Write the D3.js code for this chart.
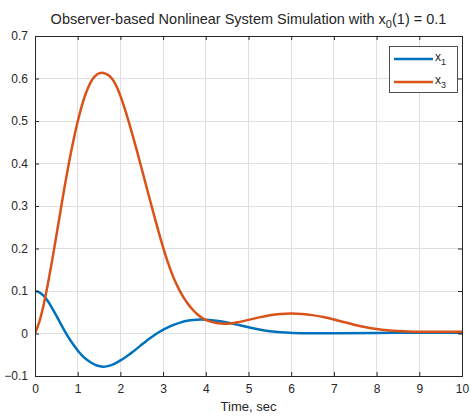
<!DOCTYPE html>
<html><head><meta charset="utf-8">
<script src="https://cdn.jsdelivr.net/npm/d3@7"></script>
<style>body{margin:0;background:#fff}svg{display:block}text{font-family:"Liberation Sans",Arial,sans-serif;fill:#262626}</style>
</head><body><svg id="c" width="470" height="417"></svg>
<script>
const tX1 = [0,0.1,0.2,0.3,0.4,0.5,0.6,0.7,0.8,0.9,1.0,1.1,1.2,1.3,1.4,1.5,1.6,1.7,1.8,1.9,2.0,2.1,2.2,2.3,2.4,2.5,2.6,2.7,2.8,2.9,3.0,3.2,3.4,3.6,3.8,4.0,4.25,4.5,4.75,5.0,5.25,5.5,5.75,6,6.5,7,8,9,10];
const x1 = [0.1,0.098,0.09,0.077,0.06,0.042,0.023,0.005,-0.012,-0.027,-0.04,-0.052,-0.061,-0.068,-0.0735,-0.077,-0.0785,-0.077,-0.074,-0.069,-0.0635,-0.057,-0.05,-0.0425,-0.0345,-0.026,-0.018,-0.0105,-0.0035,0.003,0.0088,0.019,0.026,0.031,0.033,0.0325,0.03,0.026,0.0205,0.0145,0.009,0.005,0.0025,0.0012,0.0005,0.0008,0.0015,0.002,0.002];
const tX3 = [0,0.1,0.2,0.3,0.4,0.5,0.6,0.7,0.8,0.9,1.0,1.1,1.2,1.3,1.4,1.5,1.6,1.7,1.8,1.9,2.0,2.1,2.2,2.3,2.4,2.5,2.6,2.7,2.8,2.9,3.0,3.1,3.2,3.3,3.4,3.5,3.6,3.7,3.8,3.9,4.0,4.25,4.5,4.75,5.0,5.25,5.5,5.75,6.0,6.25,6.5,6.75,7.0,7.25,7.5,7.75,8.0,8.25,8.5,8.75,9.0,9.5,10];
const x3 = [0,0.025,0.065,0.115,0.17,0.23,0.29,0.35,0.405,0.455,0.5,0.538,0.569,0.592,0.606,0.613,0.614,0.61,0.601,0.585,0.56,0.53,0.497,0.462,0.425,0.387,0.349,0.311,0.274,0.237,0.202,0.17,0.142,0.118,0.098,0.081,0.067,0.055,0.045,0.037,0.031,0.0235,0.022,0.026,0.032,0.038,0.0435,0.0465,0.0475,0.0465,0.0435,0.039,0.033,0.0265,0.02,0.0145,0.0105,0.0075,0.0058,0.0048,0.0043,0.004,0.004];
const xTicks = [0,1,2,3,4,5,6,7,8,9,10];
const yTicks = [-0.1,0,0.1,0.2,0.3,0.4,0.5,0.6,0.7];
const seriesNames = ["1","3"];
const colors = ["#0072BD","#D95319"];

const svg = d3.select("#c");
const L=35,R=462,T=36,B=376;
const x = d3.scaleLinear().domain([0,10]).range([L,R]);
const y = d3.scaleLinear().domain([-0.1,0.7]).range([B,T]);
const ax = "#262626";

// grid
svg.append("g").selectAll("line").data(xTicks).join("line")
  .attr("x1",d=>x(d)).attr("x2",d=>x(d)).attr("y1",T).attr("y2",B)
  .attr("stroke","#dfdfdf").attr("stroke-width",1).attr("shape-rendering","crispEdges");
svg.append("g").selectAll("line").data(yTicks).join("line")
  .attr("y1",d=>y(d)).attr("y2",d=>y(d)).attr("x1",L).attr("x2",R)
  .attr("stroke","#dfdfdf").attr("stroke-width",1).attr("shape-rendering","crispEdges");

// lines
const data = [tX1.map((t,i)=>[t,x1[i]]), tX3.map((t,i)=>[t,x3[i]])];
const line = d3.line().x(d=>x(d[0])).y(d=>y(d[1])).curve(d3.curveBasis);
svg.append("clipPath").attr("id","cp").append("rect").attr("x",L).attr("y",T).attr("width",R-L).attr("height",B-T);
svg.append("g").attr("clip-path","url(#cp)").selectAll("path").data(data).join("path")
  .attr("d",line).attr("fill","none").attr("stroke",(d,i)=>colors[i]).attr("stroke-width",2.5);

// axes
const axB = svg.append("g").attr("transform",`translate(0,${B})`).call(d3.axisBottom(x).tickValues(xTicks).tickSize(-4).tickPadding(8).tickFormat(d3.format("d")));
const axT = svg.append("g").attr("transform",`translate(0,${T})`).call(d3.axisTop(x).tickValues(xTicks).tickSize(-4).tickFormat(""));
const axL = svg.append("g").attr("transform",`translate(${L},0)`).call(d3.axisLeft(y).tickValues(yTicks).tickSize(-4).tickPadding(7).tickFormat(d=>d3.format("")(+d.toFixed(1))));
const axR = svg.append("g").attr("transform",`translate(${R},0)`).call(d3.axisRight(y).tickValues(yTicks).tickSize(-4).tickFormat(""));
[axB,axT,axL,axR].forEach(g=>{
  g.selectAll("path,line").attr("stroke",ax);
  g.selectAll("text").attr("font-size",12).attr("fill",ax).attr("font-family","Liberation Sans, Arial, sans-serif");
});

// title
const title = svg.append("text").attr("x",(L+R)/2).attr("y",24).attr("text-anchor","middle").attr("font-size",14.5);
title.append("tspan").text("Observer-based Nonlinear System Simulation with x");
title.append("tspan").attr("font-size",11).attr("dy",4).text("0");
title.append("tspan").attr("dy",-4).text("(1) = 0.1");

// x label
svg.append("text").attr("x",(L+R)/2).attr("y",411).attr("text-anchor","middle").attr("font-size",13).text("Time, sec");

// legend
const lg = svg.append("g");
lg.append("rect").attr("x",389.5).attr("y",46.5).attr("width",68).attr("height",46).attr("fill","#fff").attr("stroke",ax).attr("stroke-width",0.8);
seriesNames.forEach((n,i)=>{
  const yy = 59 + i*23;
  lg.append("line").attr("x1",394).attr("x2",433).attr("y1",yy).attr("y2",yy).attr("stroke",colors[i]).attr("stroke-width",2.5);
  const t = lg.append("text").attr("x",435).attr("y",yy+2).attr("font-size",12);
  t.append("tspan").text("x");
  t.append("tspan").attr("font-size",9).attr("dy",4).text(n);
});
</script></body></html>
